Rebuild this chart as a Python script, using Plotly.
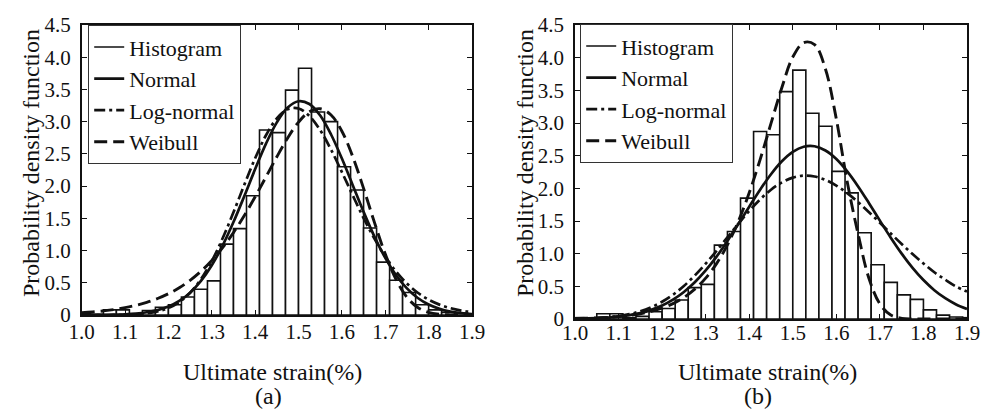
import plotly.graph_objects as go

# ---------------- data ----------------
bin_centers = [1.005, 1.035, 1.065, 1.095, 1.125, 1.155, 1.185, 1.215, 1.245, 1.275,
               1.305, 1.335, 1.365, 1.395, 1.425, 1.455, 1.485, 1.515, 1.545, 1.575,
               1.605, 1.635, 1.665, 1.695, 1.725, 1.755, 1.785, 1.815, 1.845, 1.875, 1.905]
bin_width = 0.03

hist_a = [0.02, 0.01, 0.08, 0.08, 0.02, 0.07, 0.12, 0.16, 0.28, 0.40,
          0.53, 1.10, 1.34, 1.85, 2.87, 2.83, 3.49, 3.83, 3.15, 3.00,
          2.30, 1.94, 1.35, 0.82, 0.54, 0.35, 0.16, 0.08, 0.04, 0.03, 0.02]
hist_b = [0.02, 0.01, 0.08, 0.08, 0.02, 0.04, 0.11, 0.16, 0.29, 0.48,
          0.53, 1.13, 1.34, 1.85, 2.87, 2.82, 3.48, 3.81, 3.15, 2.95,
          2.26, 1.93, 1.32, 0.83, 0.56, 0.37, 0.30, 0.14, 0.06, 0.03, 0.02]

x_curve = [1.000, 1.025, 1.050, 1.075, 1.100, 1.125, 1.150, 1.175, 1.200, 1.225,
           1.250, 1.275, 1.300, 1.325, 1.350, 1.375, 1.400, 1.425, 1.450, 1.475,
           1.500, 1.525, 1.550, 1.575, 1.600, 1.625, 1.650, 1.675, 1.700, 1.725,
           1.750, 1.775, 1.800, 1.825, 1.850, 1.875, 1.900]

normal_a = [0.00, 0.001, 0.003, 0.005, 0.011, 0.022, 0.042, 0.076, 0.131, 0.218,
            0.347, 0.529, 0.772, 1.078, 1.442, 1.846, 2.264, 2.659, 2.989, 3.218,
            3.317, 3.274, 3.095, 2.801, 2.427, 2.014, 1.600, 1.217, 0.887, 0.618,
            0.413, 0.264, 0.162, 0.095, 0.053, 0.029, 0.015]
lognormal_a = [0.000, 0.000, 0.000, 0.001, 0.004, 0.011, 0.025, 0.054, 0.108, 0.201,
               0.345, 0.556, 0.838, 1.190, 1.593, 2.021, 2.433, 2.789, 3.051, 3.193,
               3.204, 3.089, 2.867, 2.566, 2.218, 1.856, 1.504, 1.184, 0.905, 0.674,
               0.488, 0.345, 0.238, 0.161, 0.106, 0.069, 0.044]
weibull_a = [0.035, 0.047, 0.064, 0.085, 0.114, 0.150, 0.197, 0.256, 0.330, 0.423,
             0.538, 0.678, 0.846, 1.046, 1.278, 1.543, 1.834, 2.143, 2.455, 2.748,
             2.993, 3.155, 3.201, 3.104, 2.852, 2.458, 1.965, 1.437, 0.946, 0.549,
             0.275, 0.116, 0.040, 0.011, 0.002, 0.000, 0.000]

normal_b = [0.004, 0.008, 0.013, 0.022, 0.037, 0.059, 0.092, 0.140, 0.207, 0.297,
            0.414, 0.562, 0.743, 0.955, 1.195, 1.453, 1.719, 1.979, 2.216, 2.414,
            2.558, 2.637, 2.644, 2.579, 2.448, 2.259, 2.029, 1.772, 1.506, 1.245,
            1.001, 0.783, 0.596, 0.441, 0.318, 0.223, 0.152]
lognormal_b = [0.003, 0.007, 0.014, 0.025, 0.044, 0.074, 0.118, 0.180, 0.264, 0.372,
               0.506, 0.665, 0.846, 1.044, 1.250, 1.457, 1.653, 1.830, 1.979, 2.091,
               2.164, 2.194, 2.181, 2.129, 2.042, 1.926, 1.788, 1.635, 1.473, 1.309,
               1.148, 0.994, 0.850, 0.715, 0.601, 0.497, 0.420]
weibull_b = [0.008, 0.012, 0.017, 0.026, 0.038, 0.056, 0.081, 0.117, 0.166, 0.235,
             0.329, 0.456, 0.626, 0.848, 1.135, 1.495, 1.932, 2.440, 2.994, 3.544,
             4.009, 4.230, 4.200, 3.827, 3.060, 2.099, 1.300, 0.620, 0.230, 0.060,
             0.010, 0.001, 0.000, 0.000, 0.000, 0.000, 0.000]

x_ticks = [1.0, 1.1, 1.2, 1.3, 1.4, 1.5, 1.6, 1.7, 1.8, 1.9]
x_ticktext = ["1.0", "1.1", "1.2", "1.3", "1.4", "1.5", "1.6", "1.7", "1.8", "1.9"]
y_ticks = [0, 0.5, 1.0, 1.5, 2.0, 2.5, 3.0, 3.5, 4.0, 4.5]
y_ticktext = ["0", "0.5", "1.0", "1.5", "2.0", "2.5", "3.0", "3.5", "4.0", "4.5"]

series_names = ["Histogram", "Normal", "Log-normal", "Weibull"]
x_title = "Ultimate strain(%)"
y_title = "Probability density function"
panel_labels = ["(a)", "(b)"]

# ---------------- styling ----------------
W, H = 987, 409
FONT = "Liberation Serif, Times New Roman, serif"
BLACK = "#111111"
weibull_dash = "13px,6px"
lognormal_dash = "11px,4px,3px,4px"

fig = go.Figure()

panels = [
    dict(hist=hist_a, normal=normal_a, logn=lognormal_a, weib=weibull_a,
         xa="x", ya="y", legend="legend"),
    dict(hist=hist_b, normal=normal_b, logn=lognormal_b, weib=weibull_b,
         xa="x2", ya="y2", legend="legend2"),
]

for p in panels:
    fig.add_trace(go.Bar(
        x=bin_centers, y=p["hist"], width=bin_width,
        marker=dict(color="white", line=dict(color=BLACK, width=1.6)),
        xaxis=p["xa"], yaxis=p["ya"], showlegend=False, hoverinfo="skip"))
    fig.add_trace(go.Scatter(
        x=[None], y=[None], mode="lines", name=series_names[0],
        line=dict(color=BLACK, width=1.6),
        xaxis=p["xa"], yaxis=p["ya"], legend=p["legend"]))
    fig.add_trace(go.Scatter(
        x=x_curve, y=p["normal"], mode="lines", name=series_names[1],
        line=dict(color=BLACK, width=2.7, shape="spline"),
        xaxis=p["xa"], yaxis=p["ya"], legend=p["legend"]))
    fig.add_trace(go.Scatter(
        x=x_curve, y=p["logn"], mode="lines", name=series_names[2],
        line=dict(color=BLACK, width=2.7, dash=lognormal_dash, shape="spline"),
        xaxis=p["xa"], yaxis=p["ya"], legend=p["legend"]))
    fig.add_trace(go.Scatter(
        x=x_curve, y=p["weib"], mode="lines", name=series_names[3],
        line=dict(color=BLACK, width=2.9, dash=weibull_dash, shape="spline"),
        xaxis=p["xa"], yaxis=p["ya"], legend=p["legend"]))

def px_x(v):
    return v / W

def px_y(v):
    return 1 - v / H

axis_common = dict(
    showline=True, linecolor=BLACK, linewidth=1.6, mirror="ticks",
    ticks="inside", ticklen=5, tickwidth=1.3, tickcolor=BLACK,
    showgrid=False, zeroline=False, automargin=False,
    tickfont=dict(family=FONT, size=21, color=BLACK),
)

legend_common = dict(
    xanchor="left", yanchor="top",
    bgcolor="white", bordercolor="#333333", borderwidth=1.2,
    font=dict(family=FONT, size=22, color=BLACK),
    tracegroupgap=0, itemwidth=30,
)

fig.update_layout(
    template="none",
    width=W, height=H,
    margin=dict(l=0, r=0, t=0, b=0, autoexpand=False),
    paper_bgcolor="white", plot_bgcolor="white",
    barmode="overlay",
    font=dict(family=FONT, color=BLACK),
    xaxis=dict(domain=[px_x(81.7), px_x(472)], range=[1.0, 1.9], anchor="y",
               tickvals=x_ticks, ticktext=x_ticktext, ticklabelstandoff=-3, **axis_common),
    yaxis=dict(domain=[px_y(315), px_y(25)], range=[0, 4.5], anchor="x",
               tickvals=y_ticks, ticktext=y_ticktext, ticklabelstandoff=5, **axis_common),
    xaxis2=dict(domain=[px_x(575), px_x(967)], range=[1.0, 1.9], anchor="y2",
                tickvals=x_ticks, ticktext=x_ticktext, ticklabelstandoff=-6, **axis_common),
    yaxis2=dict(domain=[px_y(319), px_y(25)], range=[0, 4.5], anchor="x2",
                tickvals=y_ticks, ticktext=y_ticktext, ticklabelstandoff=5, **axis_common),
    legend=dict(x=px_x(88), y=px_y(25), **legend_common),
    legend2=dict(x=px_x(580), y=px_y(24), **legend_common),
)

ann_font = dict(family=FONT, size=24, color=BLACK)
annotations = [
    dict(text=x_title, x=px_x(272), y=px_y(372), xref="paper", yref="paper",
         showarrow=False, font=ann_font, xanchor="center", yanchor="middle"),
    dict(text=x_title, x=px_x(767), y=px_y(372), xref="paper", yref="paper",
         showarrow=False, font=ann_font, xanchor="center", yanchor="middle"),
    dict(text=y_title, x=px_x(31), y=px_y(163), xref="paper", yref="paper",
         showarrow=False, font=ann_font, textangle=-90, xanchor="center", yanchor="middle"),
    dict(text=y_title, x=px_x(525), y=px_y(163), xref="paper", yref="paper",
         showarrow=False, font=ann_font, textangle=-90, xanchor="center", yanchor="middle"),
    dict(text=panel_labels[0], x=px_x(268), y=px_y(396), xref="paper", yref="paper",
         showarrow=False, font=ann_font, xanchor="center", yanchor="middle"),
    dict(text=panel_labels[1], x=px_x(758), y=px_y(396), xref="paper", yref="paper",
         showarrow=False, font=ann_font, xanchor="center", yanchor="middle"),
]
fig.update_layout(annotations=annotations)

fig.write_html("out.html")
